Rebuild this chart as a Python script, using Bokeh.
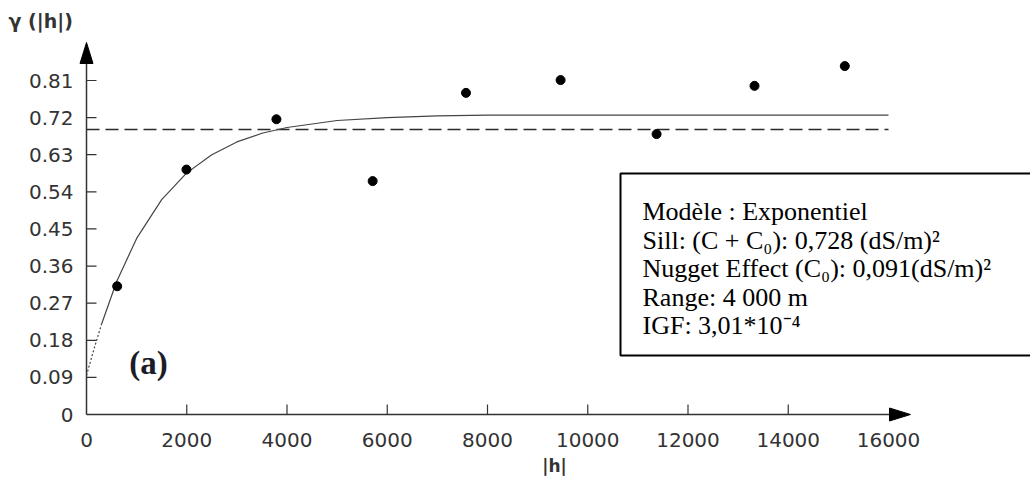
from bokeh.plotting import figure
from bokeh.models import Range1d, FixedTicker, Label, Title
from bokeh.embed import file_html
from bokeh.resources import INLINE

# ---------------- data ----------------
lag_h = [612, 1994, 3789, 5709, 7571, 9458, 11373, 13327, 15128]
gamma_h = [0.311, 0.594, 0.716, 0.566, 0.780, 0.811, 0.680, 0.797, 0.845]

model_h = [0, 150, 300, 600, 1000, 1500, 2000, 2500, 3000, 3500, 4000,
           5000, 6000, 7000, 8000, 10000, 12000, 14000, 16000]
model_gamma = [0.095, 0.159, 0.219, 0.322, 0.427, 0.521, 0.586, 0.630, 0.661,
               0.682, 0.696, 0.713, 0.720, 0.724, 0.726, 0.726, 0.726, 0.726, 0.726]

variance_h = [0, 16000]
variance_gamma = [0.691, 0.691]

x_ticks = [0, 2000, 4000, 6000, 8000, 10000, 12000, 14000, 16000]
y_ticks = [0, 0.09, 0.18, 0.27, 0.36, 0.45, 0.54, 0.63, 0.72, 0.81]
y_tick_labels = ["0", "0.09", "0.18", "0.27", "0.36", "0.45", "0.54", "0.63", "0.72", "0.81"]

y_title = "γ (|h|)"
x_title = "|h|"
panel_tag = "(a)"
info_lines = [
    "Modèle : Exponentiel",
    "Sill: (C + C₀): 0,728 (dS/m)²",
    "Nugget Effect (C₀): 0,091(dS/m)²",
    "Range: 4 000 m",
    "IGF: 3,01*10⁻⁴",
]

# ---------------- geometry (page px) ----------------
W, H = 1030, 484
FL, FR, FT, FB = 78, W, 36, 422             # frame edges
X0_PX, Y0_PX = 86, 414                       # px of data origin
XS = 802 / 16000                             # px per unit x
YS = 334 / 0.81                              # px per unit y


def PX(px):
    return (px - X0_PX) / XS


def PY(py):
    return (Y0_PX - py) / YS


p = figure(width=W, height=H, output_backend="svg", toolbar_location=None,
           x_range=Range1d(PX(FL), PX(FR)),
           y_range=Range1d(PY(FB), PY(FT)),
           min_border_left=FL, min_border_right=W - FR,
           min_border_top=FT, min_border_bottom=H - FB)
p.outline_line_color = None
p.xgrid.visible = False
p.ygrid.visible = False
p.background_fill_color = "white"
p.border_fill_color = "white"

AX = "#333333"
for ax in (p.xaxis[0], p.yaxis[0]):
    ax.axis_line_color = None
    ax.major_tick_line_color = None
    ax.minor_tick_line_color = None
    ax.major_tick_in = 0
    ax.major_tick_out = 0
    ax.major_label_text_font = "DejaVu Sans"
    ax.major_label_text_font_size = "20px"
    ax.major_label_text_color = "#333333"

p.xaxis[0].ticker = FixedTicker(ticks=x_ticks)
p.xaxis[0].major_label_standoff = 10
p.yaxis[0].ticker = FixedTicker(ticks=y_ticks)
p.yaxis[0].major_label_overrides = {t: s for t, s in zip(y_ticks, y_tick_labels)}
p.yaxis[0].major_label_standoff = 5

# tick marks (pointing inward, 10 px)
tick_len_x = 10 / YS
tick_len_y = 10 / XS
xt = x_ticks[1:-1]
p.segment(x0=xt, y0=[0] * len(xt), x1=xt, y1=[tick_len_x] * len(xt),
          line_color=AX, line_width=1.2)
yt = y_ticks[1:]
p.segment(x0=[0] * len(yt), y0=yt, x1=[tick_len_y] * len(yt), y1=yt,
          line_color=AX, line_width=1.2)

# axis lines with arrowheads
y_tip, y_base = PY(42), PY(63)
x_tip, x_base = PX(910), PX(889)
hw_x = 6.5 / XS
hw_y = 6.5 / YS
p.line([0, 0], [0, y_base], line_color=AX, line_width=1.5)
p.line([0, x_base], [0, 0], line_color=AX, line_width=1.5)
p.patch([-hw_x, hw_x, 0], [y_base, y_base, y_tip], fill_color="black", line_color="black")
p.patch([x_base, x_base, x_tip], [-hw_y, hw_y, 0], fill_color="black", line_color="black")

# sample variance (dashed)
p.line(variance_h, variance_gamma, line_color="#2a2a2a", line_width=1.6, line_dash="13 6")

# fitted model
p.line(model_h[:3], model_gamma[:3], line_color="#444444", line_width=1.2, line_dash="2 2")
p.line(model_h[2:], model_gamma[2:], line_color="#444444", line_width=1.2)

# experimental variogram
p.scatter(lag_h, gamma_h, size=9, fill_color="black", line_color="black")

# info box (right border falls outside the frame, as in the original)
p.quad(left=[PX(620)], right=[PX(1100)], top=[PY(173)], bottom=[PY(355)],
       fill_color="white", line_color="black", line_width=2)
baselines = [211, 239.5, 268, 296.5, 325]
for line, b in zip(info_lines, baselines):
    p.add_layout(Label(x=PX(642), y=PY(b), text=line, text_font="Liberation Serif",
                       text_font_size="26px", text_color="black",
                       text_baseline="alphabetic", text_align="left"))

p.add_layout(Label(x=PX(148), y=PY(362), text=panel_tag, text_font="Liberation Serif",
                   text_font_style="bold", text_font_size="33px", text_color="#1c1c28",
                   text_baseline="middle", text_align="center"))

# axis titles
p.add_layout(Title(text=y_title, align="left", offset=8 - FL, standoff=9,
                   text_font="DejaVu Sans", text_font_style="bold",
                   text_font_size="19px", text_color="#333333"), "above")
p.add_layout(Title(text=x_title, align="center", offset=487 - (FL + FR) / 2, standoff=8,
                   text_font="DejaVu Sans", text_font_style="bold",
                   text_font_size="17px", text_color="#333333"), "below")

open("out.html", "w").write(file_html(p, INLINE))
